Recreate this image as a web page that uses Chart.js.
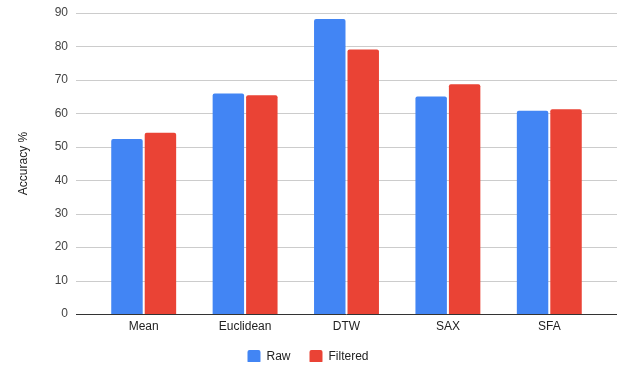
<!DOCTYPE html>
<html>
<head>
<meta charset="utf-8">
<script src="https://cdn.jsdelivr.net/npm/chart.js@4"></script>
<style>
  html, body { margin: 0; padding: 0; background: #fff; }
  #wrap { width: 627px; height: 365px; }
</style>
</head>
<body>
<div id="wrap"><canvas id="accChart"></canvas></div>
<script>
const categories = ['Mean', 'Euclidean', 'DTW', 'SAX', 'SFA'];
const rawValues = [52.3, 65.9, 88.2, 65.0, 60.8];
const filteredValues = [54.2, 65.4, 79.1, 68.7, 61.2];
const yTicks = [0, 10, 20, 30, 40, 50, 60, 70, 80, 90];

// gridlines in the reference run a bit past the plot area on both sides
const wideGrid = {
  id: 'wideGrid',
  beforeDatasetsDraw(chart) {
    const { ctx, chartArea } = chart;
    const y = chart.scales.y;
    ctx.save();
    yTicks.forEach(v => {
      const py = Math.round(y.getPixelForValue(v)) + 0.5;
      ctx.strokeStyle = v === 0 ? '#333333' : '#cccccc';
      ctx.lineWidth = 1;
      ctx.beginPath();
      ctx.moveTo(chartArea.left - 17, py);
      ctx.lineTo(chartArea.right + 17, py);
      ctx.stroke();
    });
    ctx.restore();
  }
};

// keep the wide item spacing of the legend but not its tall box
const legendHeight = {
  id: 'legendHeight',
  beforeLayout(chart) {
    const lg = chart.legend;
    if (!lg || lg._fitPatched) return;
    const fit = lg.fit;
    lg.fit = function () { fit.call(this); this.height = 31; };
    lg._fitPatched = true;
  },
  afterLayout(chart) {
    const lg = chart.legend;
    if (!lg) return;
    lg.top -= 3;
    lg.bottom -= 3;
  }
};

Chart.defaults.font.family = '"Liberation Sans", Arial, sans-serif';
Chart.defaults.font.size = 12;
Chart.defaults.color = '#444444';

new Chart(document.getElementById('accChart').getContext('2d'), {
  type: 'bar',
  data: {
    labels: categories,
    datasets: [
      { label: 'Raw', data: rawValues, backgroundColor: '#4285f4' },
      { label: 'Filtered', data: filteredValues, backgroundColor: '#ea4335' }
    ]
  },
  options: {
    responsive: true,
    maintainAspectRatio: false,
    animation: false,
    layout: { padding: { left: 16, right: 27, top: 13, bottom: 0 } },
    datasets: {
      bar: { categoryPercentage: 0.66, barPercentage: 0.94, borderRadius: { topLeft: 2, topRight: 2 } }
    },
    scales: {
      x: {
        afterFit: s => { s.height = 20; },
        grid: { display: false, drawTicks: false },
        border: { display: false },
        ticks: { color: '#222222', padding: 5 }
      },
      y: {
        min: 0,
        max: 90,
        afterFit: s => { s.width = 77; },
        afterBuildTicks: s => { s.ticks = yTicks.map(v => ({ value: v })); },
        grid: { display: false, drawTicks: true, tickLength: 22 },
        border: { display: false },
        ticks: { padding: 3, color: '#444444' },
        title: { display: true, text: 'Accuracy %', color: '#222222', font: { size: 12 }, padding: 0 }
      }
    },
    plugins: {
      legend: {
        position: 'bottom',
        labels: { boxWidth: 13, boxHeight: 13, padding: 19, color: '#222222', useBorderRadius: true, borderRadius: 2 }
      },
      tooltip: { enabled: false }
    }
  },
  plugins: [wideGrid, legendHeight]
});
</script>
</body>
</html>
